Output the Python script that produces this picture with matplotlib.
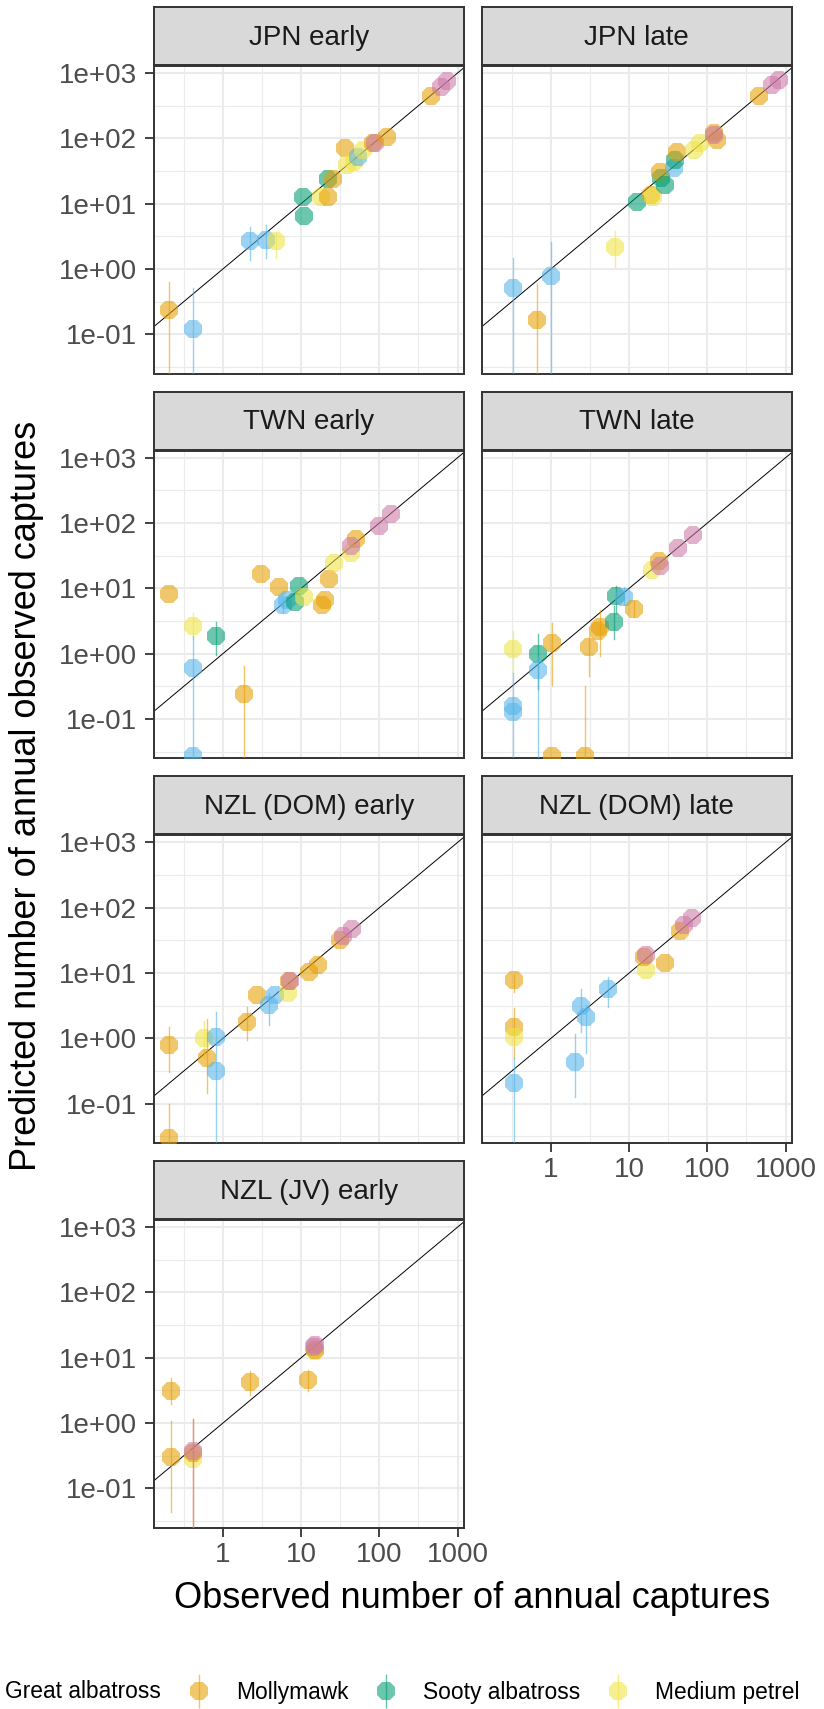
import matplotlib
matplotlib.use('Agg')
import matplotlib.pyplot as plt
from matplotlib.lines import Line2D
from matplotlib.ticker import FixedLocator, FixedFormatter, NullFormatter

plt.rcParams['font.family'] = ['Liberation Sans', 'DejaVu Sans']

nan = float('nan')

groups = ['Great albatross', 'Mollymawk', 'Sooty albatross', 'Medium petrel', 'Small petrel']
colours = ['#CC79A7', '#E69F00', '#009E73', '#F0E442', '#56B4E9']

# (group, observed, predicted, lower, upper)
jpn_early = [
    ('Mollymawk', 0.207, 0.239, 0.001, 0.63),
    ('Small petrel', 0.41, 0.122, 0.001, 0.52),
    ('Small petrel', 2.2, 2.7, 1.36, 4.4),
    ('Small petrel', 3.6, 2.75, 1.5, 4.7),
    ('Medium petrel', 4.8, 2.7, 1.45, 3.5),
    ('Sooty albatross', 10.5, 12.7, nan, nan),
    ('Sooty albatross', 11, 6.4, nan, nan),
    ('Medium petrel', 18, 12.6, nan, nan),
    ('Mollymawk', 22, 12.6, nan, nan),
    ('Sooty albatross', 22, 23.7, nan, nan),
    ('Mollymawk', 25.4, 24, nan, nan),
    ('Mollymawk', 36, 70, nan, nan),
    ('Medium petrel', 39, 39, nan, nan),
    ('Medium petrel', 48, 44, nan, nan),
    ('Small petrel', 53, 52, nan, nan),
    ('Medium petrel', 61, 66, nan, nan),
    ('Mollymawk', 82, 84, nan, nan),
    ('Great albatross', 88, 85, nan, nan),
    ('Mollymawk', 127, 106, nan, nan),
    ('Mollymawk', 456, 444, nan, nan),
    ('Great albatross', 608, 603, nan, nan),
    ('Great albatross', 740, 762, nan, nan),
]

jpn_late = [
    ('Small petrel', 0.33, 0.52, 0.001, 1.5),
    ('Mollymawk', 0.67, 0.164, 0.001, 0.6),
    ('Small petrel', 1.0, 0.79, 0.001, 2.6),
    ('Medium petrel', 6.6, 2.18, 1.07, 3.8),
    ('Sooty albatross', 12.8, 10.6, nan, nan),
    ('Mollymawk', 19, 13.5, nan, nan),
    ('Medium petrel', 20.5, 12.7, nan, nan),
    ('Sooty albatross', 25.7, 24.3, nan, nan),
    ('Mollymawk', 25, 30.7, nan, nan),
    ('Sooty albatross', 29, 19.2, nan, nan),
    ('Small petrel', 37, 35, nan, nan),
    ('Sooty albatross', 39, 46, nan, nan),
    ('Mollymawk', 41, 62, nan, nan),
    ('Medium petrel', 67, 66, nan, nan),
    ('Medium petrel', 81, 84, nan, nan),
    ('Mollymawk', 120, 119, nan, nan),
    ('Mollymawk', 133, 94, nan, nan),
    ('Great albatross', 120, 112, nan, nan),
    ('Mollymawk', 451, 444, nan, nan),
    ('Great albatross', 670, 655, nan, nan),
    ('Great albatross', 813, 795, nan, nan),
]

twn_early = [
    ('Mollymawk', 0.207, 8.3, nan, nan),
    ('Medium petrel', 0.41, 2.7, 1.66, 4.2),
    ('Small petrel', 0.41, 0.6, 0.001, 1.86),
    ('Small petrel', 0.41, 0.0277, nan, nan),
    ('Sooty albatross', 0.81, 1.86, 0.95, 3.1),
    ('Mollymawk', 1.87, 0.24, 0.001, 0.66),
    ('Mollymawk', 3.05, 16.7, nan, nan),
    ('Mollymawk', 5.2, 10.5, nan, nan),
    ('Small petrel', 5.9, 5.65, 4.2, 7.0),
    ('Small petrel', 6.6, 6.7, nan, nan),
    ('Sooty albatross', 8.3, 6.3, nan, nan),
    ('Sooty albatross', 9.4, 10.7, nan, nan),
    ('Medium petrel', 11, 7.4, nan, nan),
    ('Mollymawk', 18.6, 5.65, nan, nan),
    ('Mollymawk', 20.5, 6.6, nan, nan),
    ('Mollymawk', 23, 13.9, nan, nan),
    ('Medium petrel', 26, 24.9, nan, nan),
    ('Medium petrel', 43.6, 35, nan, nan),
    ('Mollymawk', 51, 58, nan, nan),
    ('Great albatross', 43.6, 44.7, nan, nan),
    ('Great albatross', 100, 90, nan, nan),
    ('Great albatross', 141, 137, nan, nan),
]

twn_late = [
    ('Medium petrel', 0.33, 1.2, 0.52, 2.2),
    ('Small petrel', 0.33, 0.16, 0.001, 0.5),
    ('Small petrel', 0.33, 0.13, nan, nan),
    ('Sooty albatross', 0.69, 0.98, 0.29, 2.0),
    ('Small petrel', 0.69, 0.56, 0.001, 0.9),
    ('Mollymawk', 1.03, 1.48, 0.33, 3.0),
    ('Mollymawk', 1.03, 0.0277, nan, nan),
    ('Mollymawk', 2.75, 0.0277, 0.001, 0.32),
    ('Mollymawk', 3.04, 1.28, 0.46, 1.86),
    ('Mollymawk', 3.97, 2.2, nan, nan),
    ('Mollymawk', 4.3, 2.6, 0.91, 4.7),
    ('Sooty albatross', 6.4, 3.04, 1.66, 5.3),
    ('Sooty albatross', 6.8, 7.55, 4.2, 10.7),
    ('Small petrel', 8.7, 7.4, 5.5, 10.5),
    ('Mollymawk', 11.7, 4.85, 3.6, 6.5),
    ('Medium petrel', 19.5, 18.8, nan, nan),
    ('Mollymawk', 23.8, 25.8, nan, nan),
    ('Great albatross', 25, 22, nan, nan),
    ('Great albatross', 42, 41, nan, nan),
    ('Great albatross', 66, 66, nan, nan),
]

nzl_dom_early = [
    ('Mollymawk', 0.207, 0.8, 0.31, 1.52),
    ('Mollymawk', 0.207, 0.03, 0.001, 0.1),
    ('Medium petrel', 0.57, 1.0, 0.5, 1.87),
    ('Mollymawk', 0.62, 0.51, 0.145, 2.0),
    ('Small petrel', 0.81, 1.07, 0.001, 2.5),
    ('Small petrel', 0.82, 0.32, nan, nan),
    ('Mollymawk', 2.04, 1.77, 0.95, 3.06),
    ('Mollymawk', 2.7, 4.6, nan, nan),
    ('Small petrel', 3.9, 3.24, 1.6, 4.9),
    ('Small petrel', 4.7, 4.6, nan, nan),
    ('Medium petrel', 6.8, 4.9, nan, nan),
    ('Mollymawk', 7.1, 7.5, nan, nan),
    ('Great albatross', 7.3, 7.6, nan, nan),
    ('Mollymawk', 12.8, 10.5, nan, nan),
    ('Mollymawk', 16.4, 13.5, nan, nan),
    ('Mollymawk', 31, 31.8, nan, nan),
    ('Great albatross', 34, 37, nan, nan),
    ('Great albatross', 45, 47, nan, nan),
]

nzl_dom_late = [
    ('Mollymawk', 0.34, 7.8, 5.2, 9.5),
    ('Mollymawk', 0.34, 1.52, 0.5, 2.9),
    ('Medium petrel', 0.34, 1.07, nan, nan),
    ('Small petrel', 0.34, 0.21, 0.001, 0.5),
    ('Small petrel', 2.03, 0.44, 0.126, 1.17),
    ('Small petrel', 2.4, 3.13, 1.27, 5.8),
    ('Small petrel', 2.78, 2.16, 0.59, 3.24),
    ('Small petrel', 5.4, 5.8, 3.06, 8.7),
    ('Medium petrel', 16.3, 11, nan, nan),
    ('Mollymawk', 15.7, 17.7, nan, nan),
    ('Great albatross', 16.5, 18.7, nan, nan),
    ('Mollymawk', 29, 14.4, nan, nan),
    ('Mollymawk', 45, 43.5, nan, nan),
    ('Great albatross', 51, 54, nan, nan),
    ('Great albatross', 64, 70, nan, nan),
]

nzl_jv_early = [
    ('Mollymawk', 0.217, 3.15, 1.93, 4.9),
    ('Mollymawk', 0.217, 0.3, 0.043, 1.06),
    ('Medium petrel', 0.42, 0.285, nan, nan),
    ('Mollymawk', 0.42, 0.35, 0.001, 1.14),
    ('Great albatross', 0.42, 0.37, 0.001, 1.14),
    ('Mollymawk', 2.24, 4.3, 2.74, 6.2),
    ('Mollymawk', 12.3, 4.5, 3.1, 6.6),
    ('Medium petrel', 15, 12.5, nan, nan),
    ('Mollymawk', 15, 13, nan, nan),
    ('Great albatross', 14.5, 14.8, nan, nan),
    ('Great albatross', 15, 15.9, nan, nan),
]

panel_titles = ['JPN early', 'JPN late', 'TWN early', 'TWN late',
                'NZL (DOM) early', 'NZL (DOM) late', 'NZL (JV) early']
panel_data = [jpn_early, jpn_late, twn_early, twn_late,
              nzl_dom_early, nzl_dom_late, nzl_jv_early]

x_ticks = [1, 10, 100, 1000]
x_ticklabels = ['1', '10', '100', '1000']
y_ticks = [0.1, 1, 10, 100, 1000]
y_ticklabels = ['1e-01', '1e+00', '1e+01', '1e+02', '1e+03']
x_minor = [10 ** -0.5, 10 ** 0.5, 10 ** 1.5, 10 ** 2.5]
y_minor = [10 ** -1.5, 10 ** -0.5, 10 ** 0.5, 10 ** 1.5, 10 ** 2.5]

W, H = 824, 1709
fig = plt.figure(figsize=(W / 100, H / 100), dpi=100)


def box(left, top, w, h):
    return [left / W, 1 - (top + h) / H, w / W, h / H]


col_left = [154, 482]
panel_w = 309.5
panel_h = 307.5
strip_h = 58
row_top = [66 + 384.7 * i for i in range(4)]

colour_of = dict(zip(groups, colours))
border = '#333333'

for i, (title, rows) in enumerate(zip(panel_titles, panel_data)):
    r, c = divmod(i, 2)
    ax = fig.add_axes(box(col_left[c], row_top[r], panel_w, panel_h))
    ax.set_xscale('log')
    ax.set_yscale('log')
    ax.set_xlim(0.132, 1190)
    ax.set_ylim(0.0252, 1280)

    ax.xaxis.set_major_locator(FixedLocator(x_ticks))
    ax.yaxis.set_major_locator(FixedLocator(y_ticks))
    ax.xaxis.set_minor_locator(FixedLocator(x_minor))
    ax.yaxis.set_minor_locator(FixedLocator(y_minor))
    ax.xaxis.set_minor_formatter(NullFormatter())
    ax.yaxis.set_minor_formatter(NullFormatter())
    ax.grid(which='major', color='#EBEBEB', lw=1.5)
    ax.grid(which='minor', color='#EBEBEB', lw=0.8)
    ax.set_axisbelow(True)
    ax.tick_params(which='minor', length=0)
    ax.tick_params(which='major', length=6.5, width=1.3, color=border,
                   labelsize=20, labelcolor='#4D4D4D')
    ax.tick_params(axis='y', pad=5.5)
    ax.tick_params(axis='x', pad=4)

    show_x = i in (5, 6)
    show_y = c == 0
    if show_x:
        ax.xaxis.set_major_formatter(FixedFormatter(x_ticklabels))
    else:
        ax.tick_params(axis='x', which='major', length=0, labelbottom=False)
    if show_y:
        ax.yaxis.set_major_formatter(FixedFormatter(y_ticklabels))
    else:
        ax.tick_params(axis='y', which='major', length=0, labelleft=False)

    for s in ax.spines.values():
        s.set_color(border)
        s.set_linewidth(1.4)

    # 1:1 line
    ax.plot([1e-3, 1e4], [1e-3, 1e4], color='black', lw=0.7, zorder=2)

    for grp, obs, pred, lo, hi in rows:
        col = colour_of[grp]
        if lo == lo:
            ax.plot([obs, obs], [lo, hi], color=col, lw=1.0, alpha=0.6, zorder=3)
        ax.plot([obs], [pred], marker='8', ms=14, mew=0, color=col,
                alpha=0.58, linestyle='none', zorder=3)

    sax = fig.add_axes(box(col_left[c], row_top[r] - strip_h - 1, panel_w, strip_h))
    sax.set_facecolor('#D9D9D9')
    sax.set_xticks([])
    sax.set_yticks([])
    for s in sax.spines.values():
        s.set_color(border)
        s.set_linewidth(1.4)
    sax.text(0.5, 0.47, title, ha='center', va='center', fontsize=20,
             color='#1A1A1A', transform=sax.transAxes)

fig.text(472 / W, 1 - 1598 / H, 'Observed number of annual captures',
         ha='center', va='center', fontsize=26)
fig.text(27 / W, 1 - 796 / H, 'Predicted number of annual observed captures',
         ha='center', va='center', rotation=90, fontsize=26)

# legend: only the four entries that fit on the page
handles = []
for col in colours[:4]:
    bar = Line2D([], [], color=col, marker='|', ms=24, mew=1.0, alpha=0.6,
                 linestyle='none')
    dot = Line2D([], [], color=col, marker='8', ms=14, mew=0, alpha=0.58,
                 linestyle='none')
    handles.append((bar, dot))

fig.legend(handles, groups[:4], loc='center left',
           bbox_to_anchor=(-43.4 / W, 1 - 1692 / H), ncol=4, frameon=False,
           fontsize=16.4, handlelength=1.0, handletextpad=1.12,
           columnspacing=1.17, borderpad=0, borderaxespad=0)

fig.savefig('out.png', dpi=100)
